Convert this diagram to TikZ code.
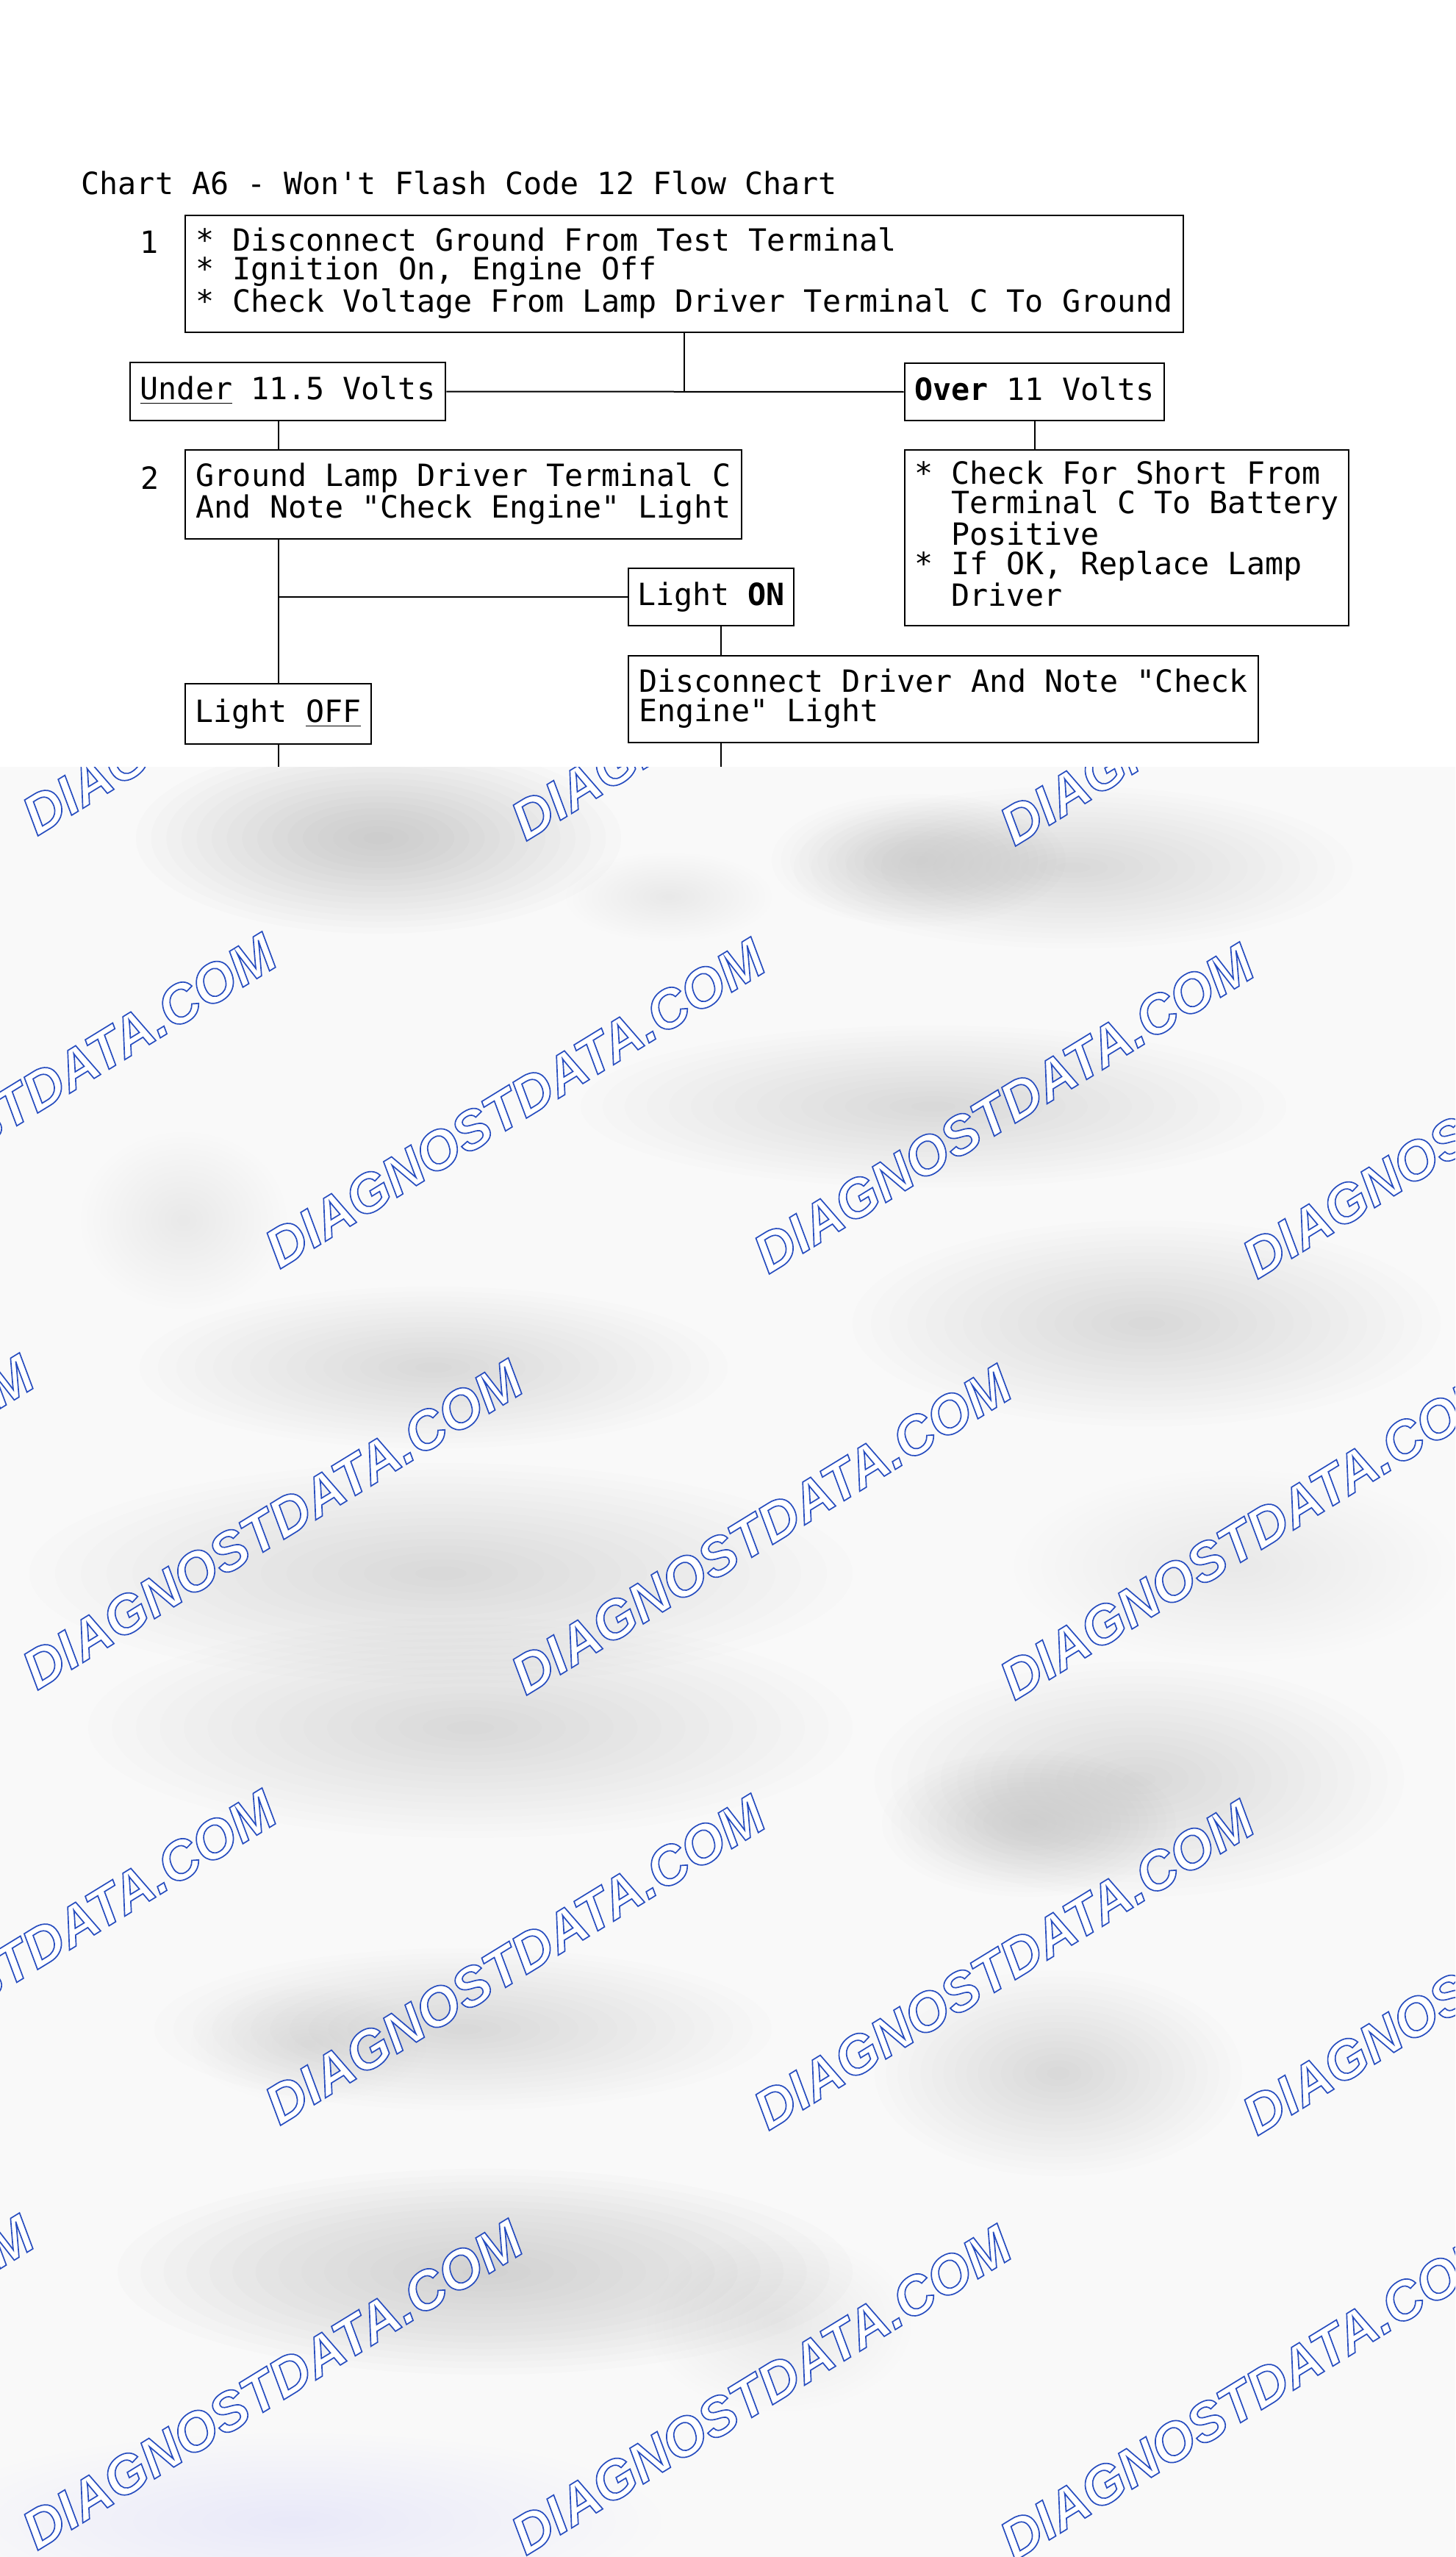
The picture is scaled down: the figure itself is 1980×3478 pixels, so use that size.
\documentclass[tikz,border=0pt]{standalone}
\usepackage{fontspec}
\setmonofont{DejaVu Sans Mono}
\newfontfamily\wmfont{Liberation Sans}
\usetikzlibrary{calc}

\newcommand{\pxu}{0.3pt}
\newcommand{\chartfont}{\ttfamily\fontsize{12.5}{11.85}\selectfont}
\newcommand{\tstrut}{\rule[-3.3pt]{0pt}{13.2pt}}
\newcommand{\ind}{\hphantom{*~}}
\newcommand{\wmark}{\special{pdf:literal direct 2 Tr 0.5 w 0.15 0.3 0.75 RG}DIAGNOSTDATA.COM\special{pdf:literal direct 0 Tr}}
\newcommand{\blob}[5]{\foreach \k in {0,...,15} {\fill[gray,opacity=#5] (#1,#2) ellipse ({#3*(1-\k/16)} and {#4*(1-\k/16)});}}

\tikzset{
  box/.style={draw, line width=0.8pt, inner sep=0pt, align=left, font=\chartfont,
    execute at begin node=\tstrut, execute at end node=\tstrut},
  link/.style={line width=0.6pt},
  label/.style={inner sep=0pt, font=\chartfont},
  wm/.style={anchor=base west, rotate=31.5, inner sep=0pt, text=white,
    font=\wmfont\bfseries\itshape\fontsize{22.3}{24}\selectfont}
}

\begin{document}
\begin{tikzpicture}[x=\pxu,y=-\pxu]
\fill[white] (0,0) rectangle (1980,3478);
\useasboundingbox (0,0) rectangle (1980,3478);

\node[label, anchor=base west] (title) at (110,265) {Chart A6 - Won't Flash Code 12 Flow Chart};

\node[box, minimum width=1358*\pxu, minimum height=159*\pxu] (check1) at (931,372.5)
  {* Disconnect Ground From Test Terminal\\* Ignition On, Engine Off\\* Check Voltage From Lamp Driver Terminal C To Ground};
\node[label, anchor=base] (step1) at (203,345) {1};

\node[box, minimum width=429*\pxu, minimum height=79*\pxu] (under) at (391.5,532.5) {\underline{Under} 11.5 Volts};
\node[box, minimum width=353*\pxu, minimum height=78*\pxu] (over) at (1407.5,533) {\textbf{Over} 11 Volts};

\node[box, minimum width=757*\pxu, minimum height=121*\pxu] (ground) at (630.5,672.5)
  {Ground Lamp Driver Terminal C\\And Note "Check Engine" Light};
\node[label, anchor=base] (step2) at (204,665) {2};

\node[box, minimum width=604*\pxu, minimum height=239*\pxu] (short) at (1533,731.5)
  {* Check For Short From\\\ind Terminal C To Battery\\\ind Positive\\* If OK, Replace Lamp\\\ind Driver};

\node[box, minimum width=225*\pxu, minimum height=78*\pxu] (lighton) at (967.5,812) {Light \textbf{ON}};
\node[box, minimum width=857*\pxu, minimum height=118*\pxu] (disc) at (1283.5,951)
  {Disconnect Driver And Note "Check\\Engine" Light};
\node[box, minimum width=253*\pxu, minimum height=82*\pxu] (lightoff) at (378.5,971) {Light \underline{OFF}};

\coordinate (onx) at ($(lighton.south)+(13,0)$);
\coordinate (cutL) at (378.5,1043);
\coordinate (cutR) at (980.5,1043);

\draw[link] (check1.south) -- (check1.south |- under.east);
\draw[link] (under.east) -- (over.west);
\draw[link] (lightoff.north |- under.south) -- (lightoff.north |- ground.north);
\draw[link] (over.south) -- (over.south |- short.north);
\draw[link] (ground.south -| lightoff.north) -- (lightoff.north);
\draw[link] (lighton.west -| lightoff.north) -- (lighton.west);
\draw[link] (onx) -- (onx |- disc.north);
\draw[link] (lightoff.south) -- (cutL);
\draw[link] (onx |- disc.south) -- (cutR);

\fill[gray!5] (0,1043) rectangle (1980,3478);
\begin{scope}
\clip (0,1043) rectangle (1980,3478);
\blob{515}{1140}{330}{130}{0.022}
\blob{1460}{1180}{380}{110}{0.014}
\blob{1250}{1170}{200}{90}{0.013}
\blob{910}{1220}{140}{60}{0.0095}
\blob{1270}{1505}{480}{110}{0.016}
\blob{250}{1660}{140}{120}{0.0095}
\blob{590}{1860}{400}{110}{0.016}
\blob{1560}{1800}{400}{140}{0.016}
\blob{600}{2140}{560}{150}{0.016}
\blob{1680}{2130}{300}{130}{0.0095}
\blob{640}{2350}{520}{150}{0.011}
\blob{1550}{2420}{360}{160}{0.014}
\blob{1400}{2480}{200}{100}{0.011}
\blob{630}{2760}{420}{110}{0.014}
\blob{420}{2780}{160}{80}{0.0095}
\blob{1440}{2820}{250}{140}{0.016}
\blob{660}{3090}{500}{140}{0.019}
\blob{1060}{3160}{180}{120}{0.0095}
\foreach \k in {0,...,15} {\fill[blue!40,opacity=0.006] (400,3430) ellipse ({500*(1-\k/16)} and {120*(1-\k/16)});}
\foreach \x/\y in {50/1138, -285/1720, 50/2300, -285/2885, 50/3470}
  \foreach \k in {-1,...,3}
    \node[wm] (wm) at (\x+665*\k, \y+7*\k) {\wmark};
\end{scope}
\end{tikzpicture}
\end{document}
